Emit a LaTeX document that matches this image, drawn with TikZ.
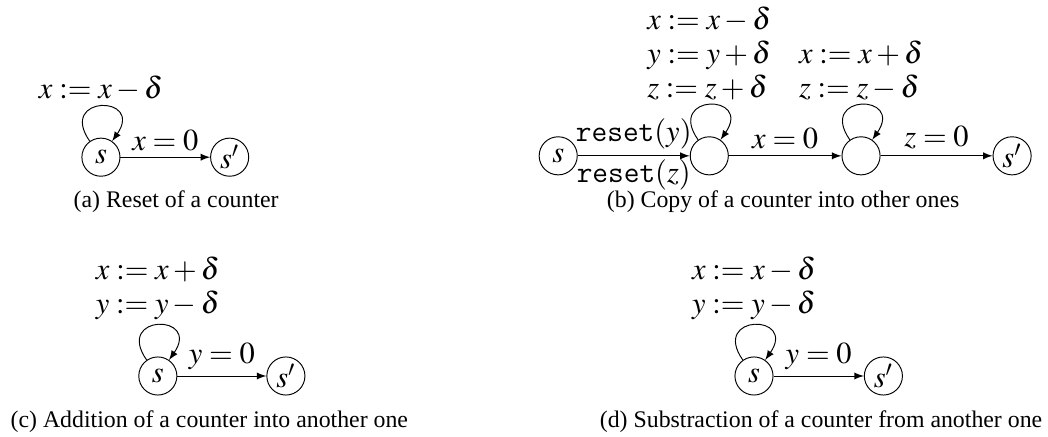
\documentclass[tikz,border=0pt]{standalone}
\usepackage{mathptmx}
\usepackage{fontspec}
\setmainfont{Liberation Serif}
\usepackage{tikz}
\usetikzlibrary{arrows}

\newcommand{\edgefont}{\fontsize{12.8}{14.2}\selectfont}

\begin{document}
\begin{tikzpicture}[
  st/.style={draw, circle, minimum size=16pt, inner sep=0pt, font=\edgefont},
  lbl/.style={font=\edgefont, inner sep=2.5pt},
  upd/.style={font=\edgefont, align=left, inner sep=2pt},
  arr/.style={->, >=latex},
  selfloop/.style={->, >=latex, loop, out=125, in=55, looseness=6.5},
  subcap/.style={font=\normalsize}
]
\useasboundingbox (0,0) rectangle (15.47,-6.437);

\node[st] (a0) at (1.49,-2.32) {$s$};
\node[st] (a1) at (3.39,-2.32) {$s'$};
\draw[selfloop] (a0) to node[above, upd] {$x := x - \delta$} (a0);
\draw[arr] (a0) -- node[above, lbl] {$x = 0$} (a1);
\node[subcap] (capa) at (2.6,-2.98) {(a) Reset of a counter};

\node[st] (b0) at (8.24,-2.30) {$s$};
\node[st] (b1) at (10.47,-2.30) {};
\node[st] (b2) at (12.71,-2.30) {};
\node[st] (b3) at (14.94,-2.30) {$s'$};
\draw[arr] (b0) -- node[above, lbl] {$\texttt{reset}(y)$}
                   node[below, lbl, inner sep=1.5pt] {$\texttt{reset}(z)$} (b1);
\draw[selfloop] (b1) to node[above, upd]
    {$x := x - \delta$\\ $y := y + \delta$\\ $z := z + \delta$} (b1);
\draw[arr] (b1) -- node[above, lbl] {$x = 0$} (b2);
\draw[selfloop] (b2) to node[above, upd]
    {$x := x + \delta$\\ $z := z - \delta$} (b2);
\draw[arr] (b2) -- node[above, lbl] {$z = 0$} (b3);
\node[subcap] (capb) at (11.56,-2.98) {(b) Copy of a counter into other ones};

\node[st] (c0) at (2.33,-5.55) {$s$};
\node[st] (c1) at (4.22,-5.55) {$s'$};
\draw[selfloop] (c0) to node[above, upd]
    {$x := x + \delta$\\ $y := y - \delta$} (c0);
\draw[arr] (c0) -- node[above, lbl] {$y = 0$} (c1);
\node[subcap] (capc) at (3.09,-6.23) {(c) Addition of a counter into another one};

\node[st] (d0) at (11.13,-5.55) {$s$};
\node[st] (d1) at (13.04,-5.55) {$s'$};
\draw[selfloop] (d0) to node[above, upd]
    {$x := x - \delta$\\ $y := y - \delta$} (d0);
\draw[arr] (d0) -- node[above, lbl] {$y = 0$} (d1);
\node[subcap] (capd) at (12.12,-6.23) {(d) Substraction of a counter from another one};
\end{tikzpicture}
\end{document}
